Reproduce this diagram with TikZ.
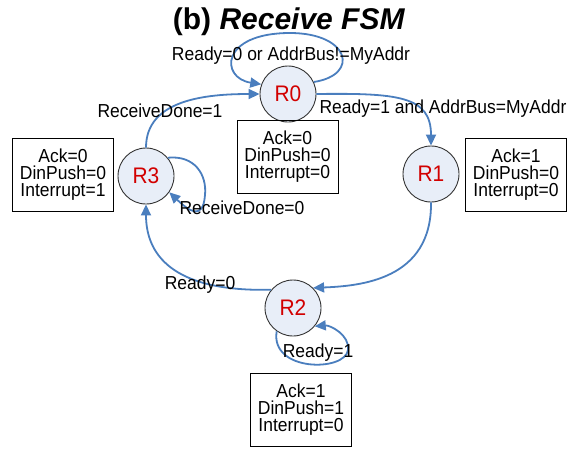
\documentclass[tikz,border=0pt]{standalone}
\usepackage{fontspec}
\setmainfont{Liberation Sans}
\newfontfamily\labfont{Liberation Sans}[FakeStretch=0.93]
\usetikzlibrary{arrows.meta}
\definecolor{edgeblue}{RGB}{74,126,190}
\definecolor{statefill}{RGB}{232,238,248}
\definecolor{statered}{RGB}{210,0,0}
\tikzset{
  statenode/.style={circle, draw=black!80, line width=0.9pt, fill=statefill,
    minimum size=56pt, inner sep=0pt, text=statered,
    font=\labfont\fontsize{22.5}{24}\selectfont},
  outbox/.style={draw=black, line width=0.9pt, minimum width=101pt, minimum height=73pt,
    inner sep=0pt, align=center, font=\labfont\fontsize{18.8}{17}\selectfont},
  edgelab/.style={anchor=base, inner sep=0pt, font=\labfont\fontsize{18.8}{20}\selectfont},
  edge/.style={draw=edgeblue, line width=1.8pt, -{Triangle[length=11pt,width=10pt]}},
}
\begin{document}
\begin{tikzpicture}[x=1pt,y=-1pt]
\useasboundingbox (0,0) rectangle (572,455);
% title
\node[anchor=base, inner sep=0pt, font=\bfseries\fontsize{30}{32}\selectfont] (title) at (289,29) {(b) \textit{Receive FSM}};
% states
\node[statenode] (r0) at (288,94) {R0};
\node[statenode] (r1) at (431,174) {R1};
\node[statenode] (r2) at (293,308) {R2};
\node[statenode] (r3) at (146,176) {R3};
% output boxes
\node[outbox] (b0) at (287.5,156.5) {Ack=0\\DinPush=0\\Interrupt=0};
\node[outbox] (b1) at (516,175) {Ack=1\\DinPush=0\\Interrupt=0};
\node[outbox] (b2) at (301,409.5) {Ack=1\\DinPush=1\\Interrupt=0};
\node[outbox] (b3) at (63,175) {Ack=0\\DinPush=0\\Interrupt=1};
% transitions
\draw[edge] (r0.25) .. controls (360,75) and (350,33) .. (290,33) .. controls (220,33) and (220,78) .. (r0.160);
\draw[edge] (r3.north) .. controls (146,100) and (205,94) .. (r0.west);
\draw[edge] (r0.east) .. controls (398,93) and (431,96) .. (r1.north);
\draw[edge] (r1.south) .. controls (432,280) and (360,286) .. (r2.45);
\draw[edge] (r2.140) .. controls (180,292) and (146,260) .. (r3.south);
\draw[edge] (r3.40) .. controls (195,155) and (207,175) .. (205,195) .. controls (203,222) and (188,210) .. (r3.-35);
\draw[edge] (r2.-125) .. controls (270,372) and (345,372) .. (348,350) .. controls (350,335) and (330,325) .. (r2.-40);
% labels
\node[edgelab] (l00) at (291,60) {Ready=0 or AddrBus!=MyAddr};
\node[edgelab] (l01) at (443,113) {Ready=1 and AddrBus=MyAddr};
\node[edgelab] (l30) at (160,117) {ReceiveDone=1};
\node[edgelab] (l33) at (242,214) {ReceiveDone=0};
\node[edgelab] (l23) at (200,289) {Ready=0};
\node[edgelab] (l22) at (318,357) {Ready=1};
\end{tikzpicture}
\end{document}
